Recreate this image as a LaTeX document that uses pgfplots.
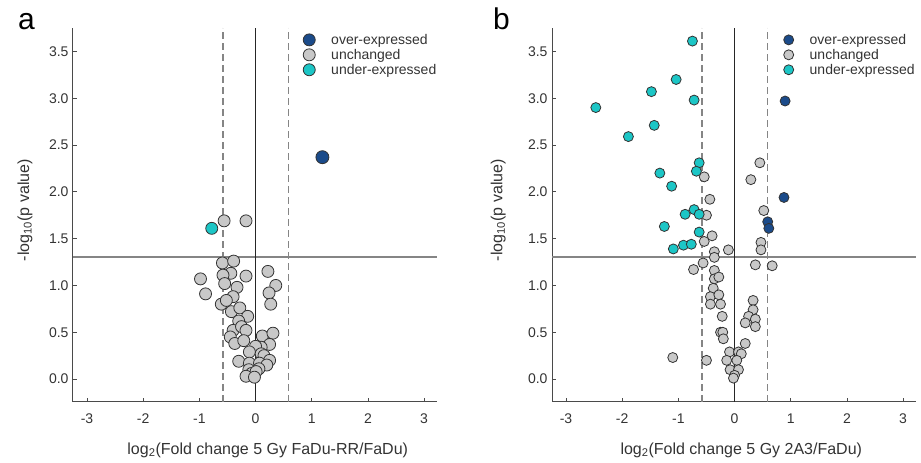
\documentclass[border=0pt]{standalone}
\usepackage{pgfplots}
\pgfplotsset{compat=1.18}
\usepackage{fontspec}
\setmainfont{Liberation Sans}

\definecolor{overc}{HTML}{1B4B8A}
\definecolor{underc}{HTML}{1CC6C6}
\definecolor{unchc}{HTML}{C8C8C8}
\definecolor{edgec}{HTML}{333333}
\definecolor{axisc}{HTML}{4A4A4A}
\definecolor{refc}{HTML}{858585}
\definecolor{textc}{HTML}{333333}

\pgfplotsset{
  volc/.style={
    scale only axis, width=364pt, height=374pt,
    xmin=-3.25, xmax=3.23, ymin=-0.245, ymax=3.75,
    axis lines*=left,
    axis line style={draw=axisc, line width=1pt},
    tick align=inside, major tick length=4pt,
    tick style={draw=axisc, line width=0.8pt},
    xtick={-3,-2,-1,0,1,2,3},
    ytick={0,0.5,1,1.5,2,2.5,3,3.5},
    yticklabel style={/pgf/number format/fixed, /pgf/number format/fixed zerofill,
      /pgf/number format/precision=1, xshift=-1pt},
    /pgf/number format/assume math mode=true,
    ticklabel style={font=\fontsize{14}{16}\selectfont, text=textc},
    xticklabel style={yshift=-8pt},
    label style={font=\fontsize{16}{18}\selectfont, text=textc},
    ylabel={-log\textsubscript{10}(p value)},
    clip=false,
    legend style={anchor=north west,
      draw=none, fill=none, inner sep=0pt, row sep=1.3pt, column sep=15pt,
      font=\fontsize{14}{16}\selectfont, text=textc,
      nodes={inner sep=1pt}},
    legend cell align=left,
    legend image code/.code={\draw[#1] plot coordinates {(0pt,0pt)};},
  },
  ptU/.style={only marks, mark=*, mark size=#1, mark options={draw=edgec, fill=unchc, line width=0.8pt}},
  ptL/.style={only marks, mark=*, mark size=#1, mark options={draw=edgec, fill=underc, line width=0.8pt}},
  ptO/.style={only marks, mark=*, mark size=#1, mark options={draw=edgec, fill=overc, line width=0.8pt}},
  refs/.style={forget plot, refc, line width=1.8pt, dash pattern=on 7pt off 4pt},
}

\begin{document}
\begin{tikzpicture}
\useasboundingbox (0,0) rectangle (921pt,463pt);

% panel a
\begin{axis}[volc, at={(73pt,61pt)}, anchor=south west,
  xlabel={log\textsubscript{2}(Fold change 5 Gy FaDu-RR/FaDu)},
  xlabel style={at={(axis description cs:0.535,-0.128)}, anchor=center},
  ylabel style={at={(axis description cs:-0.132,0.513)}, anchor=center},
  legend style={at={(axis description cs:0.632,0.987)}}]
\addplot[forget plot, refc, line width=1.8pt] coordinates {(-3.25,1.3) (3.23,1.3)};
\addplot[refs] coordinates {(-0.585,-0.245) (-0.585,3.75)};
\addplot[refs] coordinates {(0.585,-0.245) (0.585,3.75)};
\addplot[forget plot, black!85, line width=1pt] coordinates {(0,-0.245) (0,3.75)};
\addplot[ptU=6pt, forget plot] coordinates {
(-0.56,1.69) (-0.17,1.69)
(-0.59,1.24) (-0.39,1.26) (0.22,1.15) (-0.98,1.07) (-0.17,1.10) (-0.44,1.13)
(-0.58,1.11) (0.36,1.00) (0.24,0.92) (-0.89,0.91) (-0.55,1.02) (-0.33,0.98)
(-0.40,0.88) (-0.61,0.80) (-0.52,0.84) (0.27,0.80) (-0.43,0.72) (-0.28,0.76)
(-0.14,0.67) (-0.30,0.62) (-0.40,0.52) (-0.25,0.56) (-0.17,0.52) (0.12,0.46)
(0.31,0.49) (-0.45,0.45) (-0.37,0.38) (-0.21,0.41) (0.25,0.37) (0.10,0.34)
(0.00,0.35) (-0.11,0.29) (0.10,0.27) (0.15,0.25) (0.25,0.20) (-0.30,0.19)
(-0.11,0.17) (0.07,0.17) (0.20,0.15) (-0.12,0.10) (0.06,0.11) (-0.07,0.06)
(0.01,0.08) (-0.17,0.03) (-0.02,0.02)
};
\addplot[ptL=6pt, forget plot] coordinates {(-0.78,1.61)};
\addplot[ptO=6.5pt, forget plot] coordinates {(1.19,2.37)};
\addlegendimage{ptO=6pt}
\addlegendentry{over-expressed}
\addlegendimage{ptU=6pt}
\addlegendentry{unchanged}
\addlegendimage{ptL=6pt}
\addlegendentry{under-expressed}
\end{axis}

% panel b
\begin{axis}[volc, at={(552pt,61pt)}, anchor=south west,
  xlabel={log\textsubscript{2}(Fold change 5 Gy 2A3/FaDu)},
  xlabel style={at={(axis description cs:0.52,-0.128)}, anchor=center},
  ylabel style={at={(axis description cs:-0.148,0.513)}, anchor=center},
  legend style={at={(axis description cs:0.636,0.987)}}]
\addplot[forget plot, refc, line width=1.8pt] coordinates {(-3.25,1.3) (3.23,1.3)};
\addplot[refs] coordinates {(-0.585,-0.245) (-0.585,3.75)};
\addplot[refs] coordinates {(0.585,-0.245) (0.585,3.75)};
\addplot[forget plot, black!85, line width=1pt] coordinates {(0,-0.245) (0,3.75)};
\addplot[ptU=5pt, forget plot] coordinates {
(-0.54,2.16) (0.45,2.31) (0.29,2.13) (-0.44,1.92) (-0.50,1.75) (0.52,1.80)
(-0.40,1.53) (-0.54,1.47) (0.47,1.46) (0.47,1.38) (-0.11,1.38) (-0.36,1.36)
(-0.36,1.30) (0.37,1.22) (0.67,1.21) (-0.56,1.24) (-0.73,1.17) (-0.36,1.16)
(-0.36,1.07) (-0.28,1.09) (-0.38,0.97) (-0.43,0.88) (-0.28,0.90) (-0.43,0.80)
(-0.25,0.80) (-0.22,0.67) (0.33,0.84) (0.33,0.74) (0.25,0.67) (0.37,0.64)
(0.19,0.60) (0.37,0.56) (-0.25,0.50) (-0.21,0.50) (-0.20,0.43) (0.19,0.38)
(-1.10,0.23) (-0.50,0.20) (-0.09,0.29) (0.07,0.29) (0.12,0.27) (-0.14,0.20)
(0.04,0.20) (-0.08,0.10) (0.07,0.10) (0.00,0.04) (-0.02,0.01)
};
\addplot[ptL=5pt, forget plot] coordinates {
(-0.75,3.61) (-1.04,3.20) (-1.48,3.07) (-0.72,2.98) (-2.47,2.90) (-1.43,2.71)
(-1.89,2.59) (-0.63,2.31) (-0.68,2.22) (-1.33,2.20) (-1.12,2.06) (-0.72,1.81)
(-0.88,1.76) (-0.63,1.76) (-1.25,1.63) (-0.63,1.57) (-1.09,1.39) (-0.91,1.43)
(-0.77,1.44)
};
\addplot[ptO=5pt, forget plot] coordinates {(0.90,2.97) (0.88,1.94) (0.59,1.68) (0.61,1.61)};
\addlegendimage{ptO=5pt}
\addlegendentry{over-expressed}
\addlegendimage{ptU=5pt}
\addlegendentry{unchanged}
\addlegendimage{ptL=5pt}
\addlegendentry{under-expressed}
\end{axis}

\node[anchor=base west, inner sep=0pt, font=\fontsize{30}{30}\selectfont, text=black] at (18pt,433pt) {a};
\node[anchor=base west, inner sep=0pt, font=\fontsize{30}{30}\selectfont, text=black] at (493pt,433pt) {b};
\end{tikzpicture}
\end{document}
